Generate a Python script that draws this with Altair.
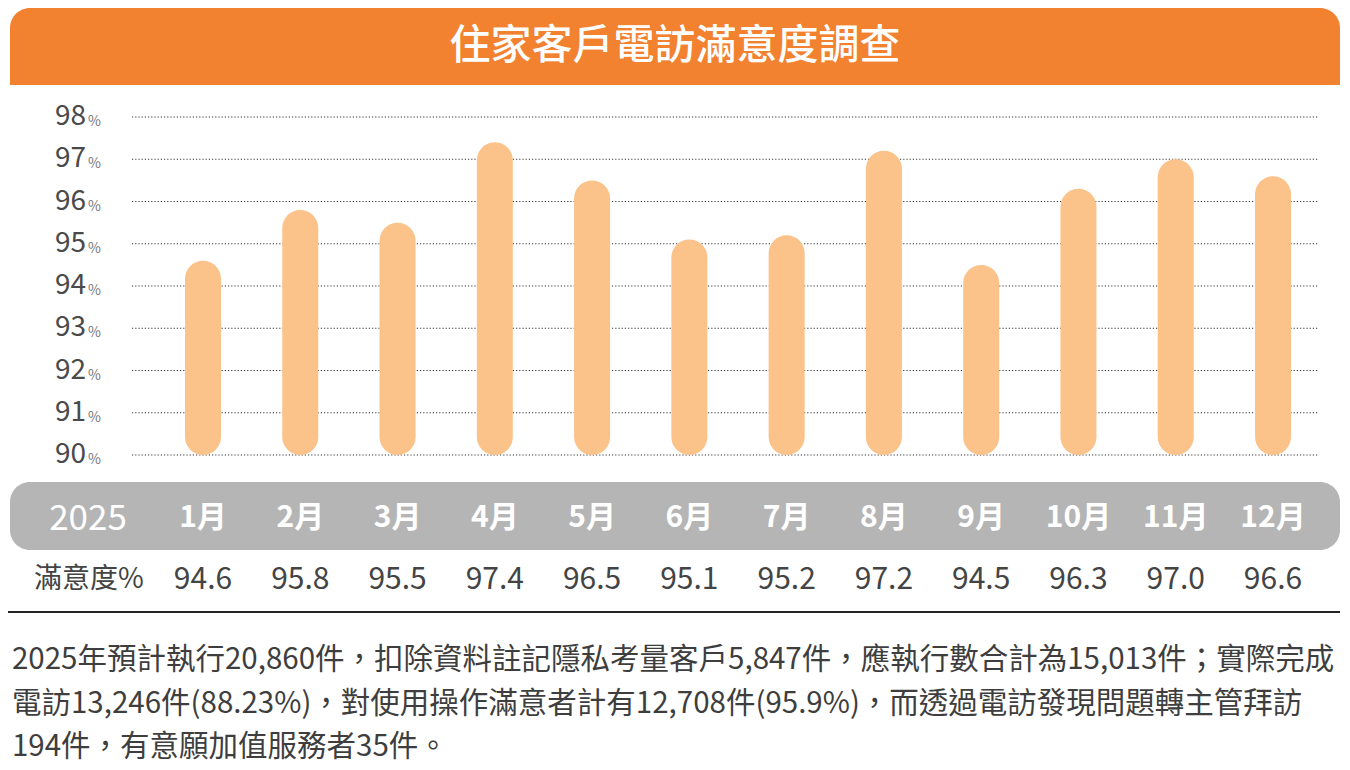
"""Residential customer phone-survey satisfaction chart (2025)."""
import pandas as pd
import altair as alt

FONT = "Noto Sans CJK TC"

title_text = "住家客戶電訪滿意度調查"
year_label = "2025"
row_label = "滿意度%"
months = ["1月", "2月", "3月", "4月", "5月", "6月", "7月", "8月", "9月", "10月", "11月", "12月"]
satisfaction = [94.6, 95.8, 95.5, 97.4, 96.5, 95.1, 95.2, 97.2, 94.5, 96.3, 97.0, 96.6]
y_ticks = [90, 91, 92, 93, 94, 95, 96, 97, 98]
notes = [
    "2025年預計執行20,860件，扣除資料註記隱私考量客戶5,847件，應執行數合計為15,013件；實際完成",
    "電訪13,246件(88.23%)，對使用操作滿意者計有12,708件(95.9%)，而透過電訪發現問題轉主管拜訪",
    "194件，有意願加值服務者35件。",
]

df = pd.DataFrame({
    "idx": list(range(1, len(months) + 1)),
    "month": months,
    "value": satisfaction,
    "label": [f"{v:.1f}" for v in satisfaction],
})
df["base"] = 90
ticks = pd.DataFrame({"tick": y_ticks, "label": [str(t) for t in y_ticks]})
notes_df = pd.DataFrame({"line": notes, "row": list(range(len(notes)))})
one = pd.DataFrame({"title": [title_text], "year": [year_label], "row_label": [row_label]})

x_scale = alt.Scale(domain=[1, 12], range=[190, 1270])
y_scale = alt.Scale(domain=[90, 98], range=[447, 109])
x_enc = alt.X("idx:Q", scale=x_scale, axis=None)

# header band
header = alt.Chart(one).mark_rect(
    color="#F28130", cornerRadiusTopLeft=20, cornerRadiusTopRight=20
).encode(x=alt.value(2), x2=alt.value(1332), y=alt.value(0), y2=alt.value(77))
header_text = alt.Chart(one).mark_text(
    font=FONT, fontSize=41, fontWeight=500, color="white", align="center", baseline="middle"
).encode(x=alt.value(667), y=alt.value(39), text="title:N")

# dotted grid and y labels
grid = alt.Chart(ticks).mark_rule(color="#333333", strokeWidth=1.2, strokeDash=[1.2, 2]).encode(
    x=alt.value(124), x2=alt.value(1310), y=alt.Y("tick:Q", scale=y_scale, axis=None)
)
tick_num = alt.Chart(ticks).mark_text(
    font=FONT, fontSize=28, color="#4A4A4A", align="right", baseline="middle"
).encode(x=alt.value(78), y=alt.Y("tick:Q", scale=y_scale, axis=None), text="label:N")
tick_pct = alt.Chart(ticks).mark_text(
    font=FONT, fontSize=14, color="#777777", align="left", baseline="middle", dy=5
).encode(x=alt.value(80), y=alt.Y("tick:Q", scale=y_scale, axis=None), text=alt.value("%"))

# pill-shaped bars
bars = alt.Chart(df).mark_bar(color="#FBC28A", width=36, cornerRadius=18).encode(
    x=x_enc,
    y=alt.Y("value:Q", scale=y_scale, axis=None),
    y2="base:Q",
)

# grey month band
band = alt.Chart(one).mark_rect(color="#B5B5B5", cornerRadius=20).encode(
    x=alt.value(2), x2=alt.value(1332), y=alt.value(474), y2=alt.value(542)
)
year_text = alt.Chart(one).mark_text(
    font=FONT, fontSize=35, color="white", align="center", baseline="middle"
).encode(x=alt.value(80), y=alt.value(511), text="year:N")
month_text = alt.Chart(df).mark_text(
    font=FONT, fontSize=30, fontWeight="bold", color="white", align="center", baseline="middle"
).encode(x=x_enc, y=alt.value(510), text="month:N")

# value row
row_text = alt.Chart(one).mark_text(
    font=FONT, fontSize=28, color="#444444", align="center", baseline="middle"
).encode(x=alt.value(81), y=alt.value(572), text="row_label:N")
value_text = alt.Chart(df).mark_text(
    font=FONT, fontSize=30, color="#444444", align="center", baseline="middle"
).encode(x=x_enc, y=alt.value(572), text="label:N")
divider = alt.Chart(one).mark_rule(color="#222222", strokeWidth=2).encode(
    x=alt.value(-3), x2=alt.value(1332), y=alt.value(604)
)

# note paragraph
note_text = alt.Chart(notes_df).mark_text(
    font=FONT, fontSize=29.5, color="#3E3E3E", align="left", baseline="middle"
).encode(
    x=alt.value(4),
    y=alt.Y("row:Q", scale=alt.Scale(domain=[0, 2], range=[652, 739]), axis=None),
    text="line:N",
)

chart = alt.layer(
    header, header_text, grid, tick_num, tick_pct, bars,
    band, year_text, month_text, row_text, value_text, divider, note_text,
).resolve_scale(y="independent").properties(
    width=1334, height=760, autosize=alt.AutoSizeParams(type="none"), padding=0
).configure_view(stroke=None)

chart.save("out.html", embed_options={"renderer": "svg", "actions": False})
